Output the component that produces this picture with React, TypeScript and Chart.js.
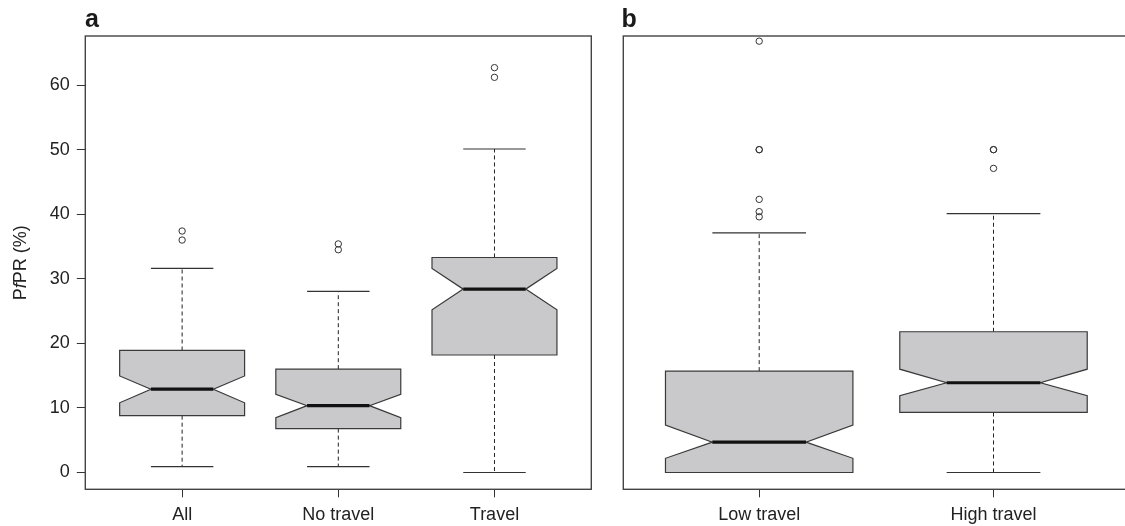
import React, { useEffect, useRef } from "react";
import { Chart, registerables } from "chart.js";

Chart.register(...registerables);

const FONT = "'Liberation Sans', Arial, Helvetica, sans-serif";

// ---------- Panel a ----------
const categoriesA = ["All", "No travel", "Travel"];
const lowerWhiskerA = [0.9, 0.9, 0];
const q1A = [8.8, 6.8, 18.2];
const notchLoA = [10.8, 8.5, 25.2];
const medianA = [12.9, 10.35, 28.4];
const notchHiA = [14.95, 12.1, 31.6];
const q3A = [18.9, 16.0, 33.3];
const upperWhiskerA = [31.6, 28.05, 50.1];
const outliersA = [
  [37.4, 36.0],
  [35.4, 34.5],
  [62.7, 61.2],
];

// ---------- Panel b ----------
const categoriesB = ["Low travel", "High travel"];
const lowerWhiskerB = [0, 0];
const q1B = [0, 9.3];
const notchLoB = [2.2, 11.9];
const medianB = [4.7, 13.9];
const notchHiB = [7.35, 16.0];
const q3B = [15.7, 21.8];
const upperWhiskerB = [37.1, 40.1];
const outliersB = [
  [66.8, 50.0, 50.0, 42.3, 40.4, 39.6],
  [50.0, 50.0, 47.1],
];

const yTickValues = [0, 10, 20, 30, 40, 50, 60];
const yMin = -2.6;
const yMax = 67.6;

type Stats = {
  lw: number[];
  q1: number[];
  nlo: number[];
  med: number[];
  nhi: number[];
  q3: number[];
  uw: number[];
};

const statsA: Stats = { lw: lowerWhiskerA, q1: q1A, nlo: notchLoA, med: medianA, nhi: notchHiA, q3: q3A, uw: upperWhiskerA };
const statsB: Stats = { lw: lowerWhiskerB, q1: q1B, nlo: notchLoB, med: medianB, nhi: notchHiB, q3: q3B, uw: upperWhiskerB };

function makePlugin(stats: Stats, letter: string, letterX: number, showYTitle: boolean) {
  return {
    id: "notchedBoxes" + letter,
    beforeDatasetsDraw(chart: any) {
      const ctx = chart.ctx as CanvasRenderingContext2D;
      const xs = chart.scales.x;
      const ys = chart.scales.y;
      ctx.save();
      for (let i = 0; i < stats.med.length; i++) {
        const c = i + 1;
        const xc = xs.getPixelForValue(c);
        const xl = xs.getPixelForValue(c - 0.4);
        const xr = xs.getPixelForValue(c + 0.4);
        const nl = xs.getPixelForValue(c - 0.2);
        const nr = xs.getPixelForValue(c + 0.2);
        const y = (v: number) => ys.getPixelForValue(v);
        // whiskers
        ctx.strokeStyle = "#222";
        ctx.lineWidth = 1;
        ctx.setLineDash([4, 3]);
        ctx.beginPath();
        ctx.moveTo(xc, y(stats.q3[i]));
        ctx.lineTo(xc, y(stats.uw[i]));
        ctx.moveTo(xc, y(stats.q1[i]));
        ctx.lineTo(xc, y(stats.lw[i]));
        ctx.stroke();
        ctx.setLineDash([]);
        ctx.strokeStyle = "#333";
        ctx.lineWidth = 1.2;
        ctx.beginPath();
        ctx.moveTo(nl, y(stats.uw[i]));
        ctx.lineTo(nr, y(stats.uw[i]));
        ctx.moveTo(nl, y(stats.lw[i]));
        ctx.lineTo(nr, y(stats.lw[i]));
        ctx.stroke();
        // notched box
        ctx.beginPath();
        ctx.moveTo(xl, y(stats.q3[i]));
        ctx.lineTo(xr, y(stats.q3[i]));
        ctx.lineTo(xr, y(stats.nhi[i]));
        ctx.lineTo(nr, y(stats.med[i]));
        ctx.lineTo(xr, y(stats.nlo[i]));
        ctx.lineTo(xr, y(stats.q1[i]));
        ctx.lineTo(xl, y(stats.q1[i]));
        ctx.lineTo(xl, y(stats.nlo[i]));
        ctx.lineTo(nl, y(stats.med[i]));
        ctx.lineTo(xl, y(stats.nhi[i]));
        ctx.closePath();
        ctx.fillStyle = "#c9c9cb";
        ctx.fill();
        ctx.strokeStyle = "#3a3a3a";
        ctx.lineWidth = 1.2;
        ctx.stroke();
        // median
        ctx.strokeStyle = "#111";
        ctx.lineWidth = 3.2;
        ctx.beginPath();
        ctx.moveTo(nl, y(stats.med[i]));
        ctx.lineTo(nr, y(stats.med[i]));
        ctx.stroke();
      }
      ctx.restore();
    },
    afterDraw(chart: any) {
      const ctx = chart.ctx as CanvasRenderingContext2D;
      const a = chart.chartArea;
      ctx.save();
      ctx.strokeStyle = "#444";
      ctx.lineWidth = 1.4;
      ctx.strokeRect(a.left, a.top, a.right - a.left, a.bottom - a.top);
      // panel letter
      ctx.fillStyle = "#1a1a1a";
      ctx.font = `bold 25px ${FONT}`;
      ctx.textBaseline = "alphabetic";
      ctx.textAlign = "left";
      ctx.fillText(letter, letterX, 26.5);
      if (showYTitle) {
        const cy = (a.top + a.bottom) / 2;
        ctx.translate(21, cy);
        ctx.rotate(-Math.PI / 2);
        ctx.textBaseline = "middle";
        const parts = [
          { t: "P", f: `18px ${FONT}` },
          { t: "f", f: `italic 18px ${FONT}` },
          { t: "PR (%)", f: `18px ${FONT}` },
        ];
        let total = 0;
        for (const p of parts) {
          ctx.font = p.f;
          total += ctx.measureText(p.t).width;
        }
        let x = -total / 2;
        ctx.fillStyle = "#222";
        for (const p of parts) {
          ctx.font = p.f;
          ctx.fillText(p.t, x, 0);
          x += ctx.measureText(p.t).width;
        }
      }
      ctx.restore();
    },
  };
}

function outlierPoints(out: number[][]) {
  const pts: { x: number; y: number }[] = [];
  out.forEach((vals, i) => vals.forEach((v) => pts.push({ x: i + 1, y: v })));
  return pts;
}

function makeConfig(
  cats: string[],
  stats: Stats,
  outs: number[][],
  xMin: number,
  xMax: number,
  padding: any,
  showY: boolean,
  letter: string,
  letterX: number
): any {
  return {
    type: "scatter",
    data: {
      datasets: [
        {
          data: outlierPoints(outs),
          pointStyle: "circle",
          radius: 3.2,
          borderColor: "#333",
          borderWidth: 1,
          backgroundColor: "rgba(0,0,0,0)",
          showLine: false,
        },
      ],
    },
    options: {
      animation: false,
      responsive: false,
      devicePixelRatio: 1,
      events: [],
      layout: { padding },
      plugins: { legend: { display: false }, tooltip: { enabled: false } },
      scales: {
        x: {
          type: "linear",
          min: xMin,
          max: xMax,
          afterBuildTicks: (s: any) => {
            s.ticks = cats.map((_, i) => ({ value: i + 1 }));
          },
          afterFit: (s: any) => {
            s.height = 36.7;
          },
          ticks: {
            callback: (v: any) => cats[Math.round(v) - 1] ?? "",
            font: { family: FONT, size: 18 },
            color: "#222",
            padding: 7,
            maxRotation: 0,
            autoSkip: false,
          },
          grid: { drawOnChartArea: false, drawTicks: true, tickLength: 8, color: "#333", lineWidth: 1 },
          border: { display: false },
        },
        y: {
          type: "linear",
          display: showY,
          min: yMin,
          max: yMax,
          afterBuildTicks: (s: any) => {
            s.ticks = yTickValues.map((v) => ({ value: v }));
          },
          afterFit: (s: any) => {
            s.width = showY ? 85.3 : 0;
          },
          ticks: {
            callback: (v: any) => String(v),
            font: { family: FONT, size: 18 },
            color: "#222",
            padding: 7,
          },
          grid: { drawOnChartArea: false, drawTicks: true, tickLength: 8.5, color: "#333", lineWidth: 1 },
          border: { display: false },
        },
      },
    },
    plugins: [makePlugin(stats, letter, letterX, showY)],
  };
}

export default function App() {
  const refA = useRef<HTMLCanvasElement>(null);
  const refB = useRef<HTMLCanvasElement>(null);

  useEffect(() => {
    const chartA = new Chart(
      refA.current as HTMLCanvasElement,
      makeConfig(categoriesA, statsA, outliersA, 0.38, 3.62, { left: 0, top: 36, right: 8.7, bottom: 0 }, true, "a", 85)
    );
    const chartB = new Chart(
      refB.current as HTMLCanvasElement,
      makeConfig(categoriesB, statsB, outliersB, 0.42, 2.58, { left: 23.3, top: 36, right: 10.6, bottom: 0 }, false, "b", 21.5)
    );
    return () => {
      chartA.destroy();
      chartB.destroy();
    };
  }, []);

  return (
    <div
      style={{
        position: "fixed",
        left: 0,
        top: 0,
        width: 1125,
        height: 526,
        overflow: "hidden",
        background: "#fff",
      }}
    >
      <canvas ref={refA} width={600} height={526} style={{ position: "absolute", left: 0, top: 0 }} />
      <canvas ref={refB} width={540} height={526} style={{ position: "absolute", left: 600, top: 0 }} />
    </div>
  );
}
